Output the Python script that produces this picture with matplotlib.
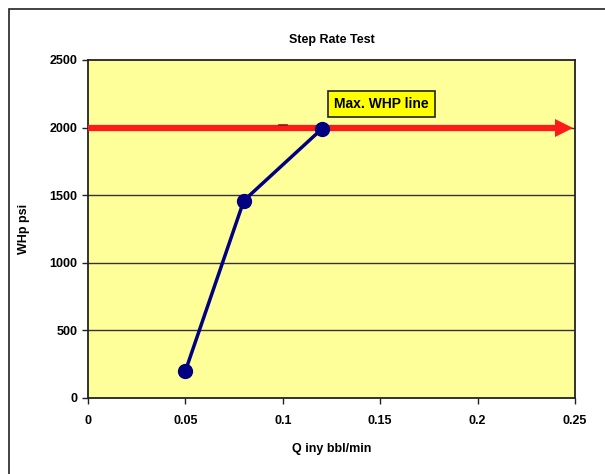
import matplotlib.pyplot as plt
from matplotlib.patches import Rectangle

# data
q_rate = [0.05, 0.08, 0.12]
whp = [200, 1460, 1990]
max_whp = 2000
x_ticks = [0, 0.05, 0.1, 0.15, 0.2, 0.25]
y_ticks = [0, 500, 1000, 1500, 2000, 2500]

plt.rcParams['font.family'] = ['Liberation Sans Narrow', 'Liberation Sans', 'DejaVu Sans']
plt.rcParams['font.weight'] = 'bold'
plt.rcParams['axes.titleweight'] = 'bold'
plt.rcParams['axes.labelweight'] = 'bold'

fig = plt.figure(figsize=(6.05, 4.74), dpi=100)
fig.patches.append(Rectangle((9/605, -0.1), 1.2, 1 - 9/474 + 0.1, transform=fig.transFigure,
                             fill=False, edgecolor="#222222", lw=1.2))
ax = fig.add_axes([88/605, 1 - 398/474, (575 - 88)/605, (398 - 60)/474])
ax.set_facecolor("#ffff99")

for y in y_ticks[1:-1]:
    ax.axhline(y, color="#333333", lw=1, zorder=1)

# max WHP line with arrow head
ax.plot([0.0, 0.2425], [max_whp, max_whp], color="#ff1a1a", lw=4.5, solid_capstyle="butt",
        zorder=3, clip_on=False)
ax.plot([0.2445], [max_whp], marker=">", ms=13, color="#ff1a1a", mec="#ff1a1a", mew=0,
        zorder=3, clip_on=False)
ax.plot([0.098, 0.102], [2020, 2020], color="#8b1a1a", lw=1.2, zorder=3)

ax.plot(q_rate, whp, color="#000080", lw=2.5, marker="o", ms=10, zorder=4)

ax.text(0.1265, 2175, "Max. WHP line", fontsize=10, va="center", ha="left",
        bbox=dict(boxstyle="square,pad=0.45", fc="#ffff00", ec="#222222", lw=1.2), zorder=5)

ax.set_xlim(0, 0.25)
ax.set_ylim(0, 2500)
ax.set_xticks(x_ticks)
ax.set_xticklabels(["0", "0.05", "0.1", "0.15", "0.2", "0.25"])
ax.set_yticks(y_ticks)
ax.tick_params(labelsize=9, length=4, width=1, color="#222222")
ax.tick_params(axis="x", pad=8)
for s in ax.spines.values():
    s.set_linewidth(1.3)
    s.set_color("#222222")

ax.set_title("Step Rate Test", fontsize=9, pad=12)
ax.set_xlabel("Q iny bbl/min", fontsize=9, labelpad=12)
ax.set_ylabel("WHp psi", fontsize=9, labelpad=14)

fig.savefig("out.png", dpi=100)
